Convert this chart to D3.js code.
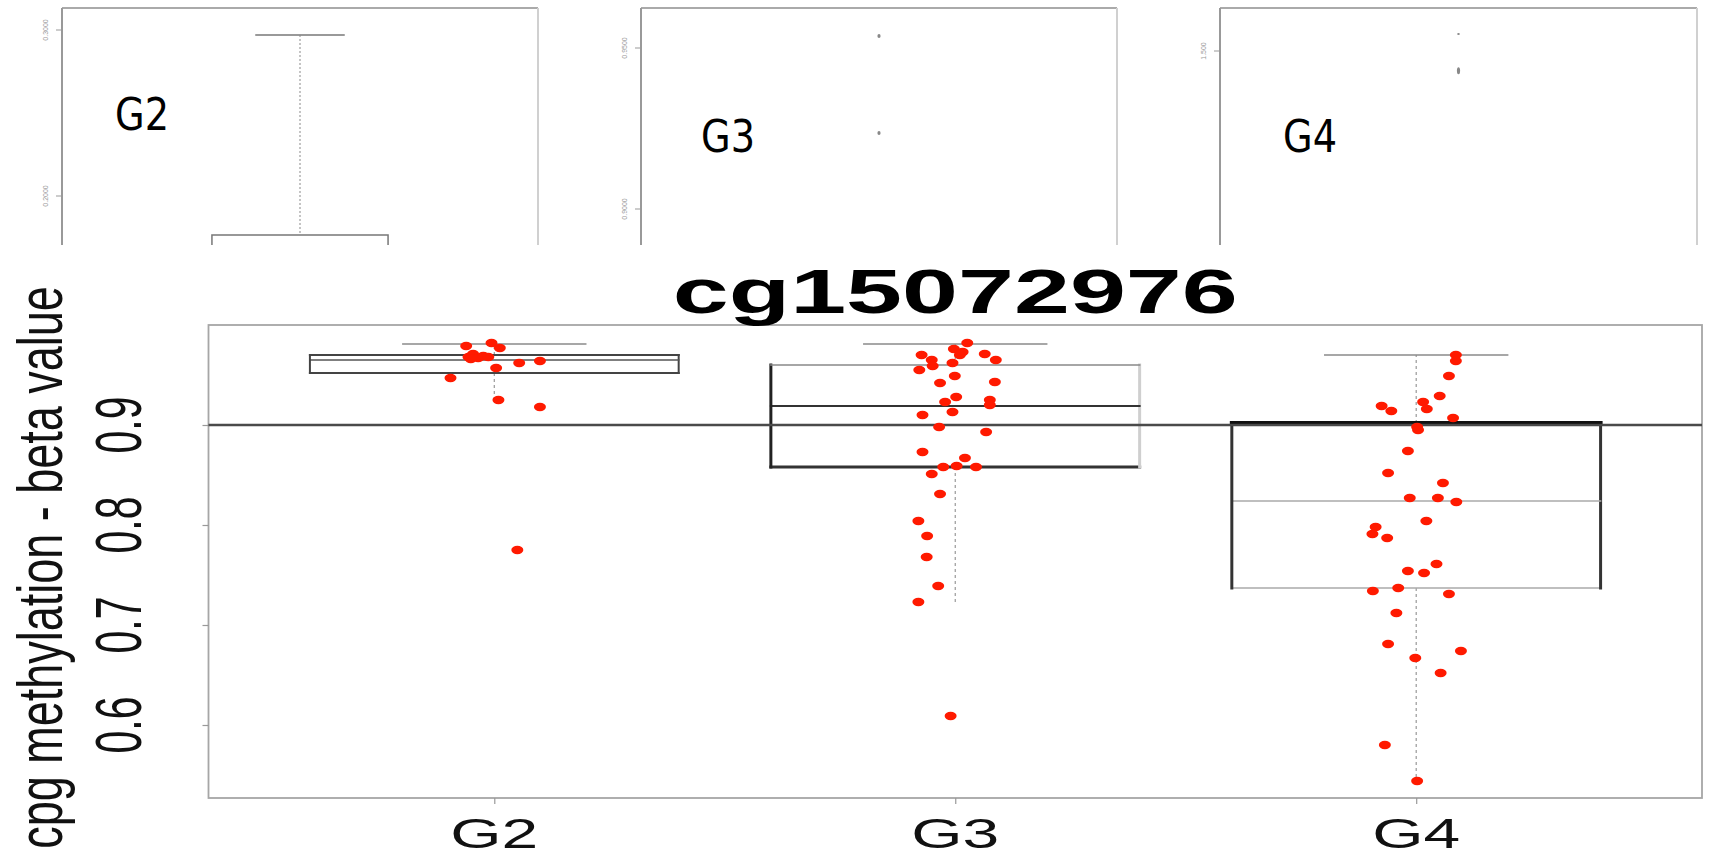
<!DOCTYPE html>
<html>
<head>
<meta charset="utf-8">
<script src="https://cdn.jsdelivr.net/npm/d3@7"></script>
<style>
  html, body { margin: 0; padding: 0; background: #fff; }
  svg { display: block; }
</style>
</head>
<body>
<svg id="chart" width="1709" height="857"></svg>
<script>
// ---------------- data ----------------
const categories = ["G2", "G3", "G4"];
const chartTitle = "cg15072976";
const yAxisLabel = "cpg methylation - beta value";
const yTicks = [0.6, 0.7, 0.8, 0.9];
const referenceLine = 0.9;

// box statistics per category
const whiskerLow  = [0.925, 0.722, 0.544];
const boxQ1       = [0.952, 0.858, 0.737];
const boxMedian   = [0.965, 0.919, 0.824];
const boxQ3       = [0.970, 0.960, 0.902];
const whiskerHigh = [0.981, 0.981, 0.970];

// individual samples (beta values) and their horizontal jitter (category units)
const g2Values = [0.979, 0.982, 0.977, 0.968, 0.971, 0.967, 0.969, 0.968, 0.966, 0.957, 0.962, 0.964, 0.947, 0.925, 0.918, 0.775];
const g2Jitter = [-0.061, -0.006, 0.012, -0.056, -0.046, -0.035, -0.024, -0.013, -0.051, 0.004, 0.054, 0.099, -0.095, 0.009, 0.099, 0.050];

const g3Values = [0.982, 0.976, 0.973, 0.970, 0.970, 0.965, 0.971, 0.965, 0.962, 0.959, 0.955, 0.949, 0.942, 0.943, 0.928, 0.923, 0.925, 0.920, 0.913, 0.910, 0.898, 0.893, 0.873, 0.867, 0.858, 0.859, 0.858, 0.851, 0.831, 0.804, 0.789, 0.768, 0.739, 0.723, 0.609];
const g3Jitter = [0.026, -0.003, 0.016, 0.010, -0.073, -0.051, 0.064, 0.088, -0.006, -0.049, -0.078, -0.001, -0.033, 0.086, 0.002, -0.022, 0.075, 0.075, -0.006, -0.071, -0.035, 0.067, -0.071, 0.021, -0.026, 0.003, 0.045, -0.051, -0.033, -0.080, -0.061, -0.062, -0.037, -0.080, -0.010];

const g4Values = [0.970, 0.964, 0.949, 0.929, 0.923, 0.916, 0.919, 0.914, 0.907, 0.898, 0.895, 0.874, 0.852, 0.842, 0.827, 0.827, 0.823, 0.804, 0.798, 0.791, 0.787, 0.761, 0.754, 0.752, 0.734, 0.737, 0.731, 0.712, 0.681, 0.674, 0.667, 0.652, 0.580, 0.544];
const g4Jitter = [0.086, 0.086, 0.071, 0.051, 0.015, 0.023, -0.075, -0.054, 0.080, 0.002, 0.004, -0.018, -0.061, 0.058, -0.014, 0.047, 0.087, 0.022, -0.088, -0.095, -0.063, 0.044, -0.018, 0.017, -0.094, -0.039, 0.071, -0.043, -0.061, 0.097, -0.002, 0.053, -0.068, 0.002];

// cropped fragments of three other plots shown above the main chart
const insetLabels = ["G2", "G3", "G4"];
const inset1TickValues = [0.2, 0.3];
const inset1TickLabels = ["0.2000", "0.3000"];
const inset1WhiskerTop = 0.297;
const inset1BoxTop = 0.1765;
const inset2TickValues = [0.90, 0.95];
const inset2TickLabels = ["0.9000", "0.9500"];
const inset2Points = [0.9537, 0.9236];
const inset3TickValues = [1.5];
const inset3TickLabels = ["1.500"];
const inset3Points = [1.504, 1.4953];

// ---------------- layout / style ----------------
const svg = d3.select("#chart");
const FONT = "'Liberation Sans', Arial, sans-serif";
const plot = { left: 208.5, right: 1702, top: 325, bottom: 798 };

const x = d3.scaleLinear().domain([0.38, 3.62]).range([plot.left, plot.right]);
const y = d3.scaleLinear().domain([0.527, 1.0]).range([plot.bottom, plot.top]);
const boxHalf = 0.4, capHalf = 0.2;

const boxes = categories.map((c, i) => ({
  cat: c, pos: i + 1,
  lo: whiskerLow[i], q1: boxQ1[i], med: boxMedian[i], q3: boxQ3[i], hi: whiskerHigh[i]
}));
const boxStyle = [
  { top: ["#444", 2], bottom: ["#444", 2], left: ["#444", 2], right: ["#444", 2], med: ["#555", 1.5] },
  { top: ["#888", 1.5], bottom: ["#333", 3], left: ["#222", 3], right: ["#cfcfcf", 3], med: ["#333", 2] },
  { top: ["#111", 4], bottom: ["#aaa", 1.5], left: ["#333", 3], right: ["#333", 3], med: ["#aaa", 1.5] }
];

// ---------------- inset fragments ----------------
const insets = [
  { left: 62, right: 538, ticks: inset1TickValues, labels: inset1TickLabels,
    y: d3.scaleLinear().domain([0.2, 0.3]).range([196, 30]) },
  { left: 641, right: 1117, ticks: inset2TickValues, labels: inset2TickLabels,
    y: d3.scaleLinear().domain([0.90, 0.95]).range([209, 48]) },
  { left: 1220, right: 1697, ticks: inset3TickValues, labels: inset3TickLabels,
    y: d3.scaleLinear().domain([1.45, 1.5]).range([262, 51]) }
];
const insetTop = 8, insetBottom = 245;
const insetLabelPos = [[115, 130], [701, 152], [1283, 152]];

insets.forEach((p, i) => {
  const g = svg.append("g");
  const ix = d3.scaleLinear().domain([0.5, 1.5]).range([p.left, p.right]);
  // frame (open at the bottom: cropped)
  g.append("line").attr("x1", p.left).attr("x2", p.right).attr("y1", insetTop).attr("y2", insetTop)
    .attr("stroke", "#aaa").attr("stroke-width", 2);
  g.append("line").attr("x1", p.left).attr("x2", p.left).attr("y1", insetTop).attr("y2", insetBottom)
    .attr("stroke", "#999").attr("stroke-width", 2);
  g.append("line").attr("x1", p.right).attr("x2", p.right).attr("y1", insetTop).attr("y2", insetBottom)
    .attr("stroke", "#d0d0d0").attr("stroke-width", 2);
  // ticks
  p.ticks.forEach((t, k) => {
    const ty = p.y(t);
    g.append("line").attr("x1", p.left - 6).attr("x2", p.left).attr("y1", ty).attr("y2", ty)
      .attr("stroke", "#999").attr("stroke-width", 1);
    g.append("text").attr("transform", `translate(${p.left - 14},${ty}) rotate(-90)`)
      .attr("text-anchor", "middle").attr("font-family", FONT).attr("font-size", 7)
      .attr("fill", "#999").text(p.labels[k]);
  });
  // label
  g.append("text").attr("x", insetLabelPos[i][0]).attr("y", insetLabelPos[i][1])
    .attr("font-family", "'DejaVu Sans', sans-serif").attr("font-size", 45)
    .attr("textLength", 54).attr("lengthAdjust", "spacingAndGlyphs")
    .attr("fill", "#000").text(insetLabels[i]);
  p.ix = ix;
});

// inset 1: whisker and box top
{
  const p = insets[0];
  const cx = p.ix(1);
  svg.append("line").attr("x1", p.ix(1 - 0.094)).attr("x2", p.ix(1 + 0.094))
    .attr("y1", p.y(inset1WhiskerTop)).attr("y2", p.y(inset1WhiskerTop))
    .attr("stroke", "#777").attr("stroke-width", 1.5);
  svg.append("line").attr("x1", cx).attr("x2", cx)
    .attr("y1", p.y(inset1WhiskerTop)).attr("y2", p.y(inset1BoxTop))
    .attr("stroke", "#888").attr("stroke-width", 1).attr("stroke-dasharray", "2,2");
  const bl = p.ix(1 - 0.185), br = p.ix(1 + 0.185);
  svg.append("path")
    .attr("d", `M${bl},${insetBottom} L${bl},${p.y(inset1BoxTop)} L${br},${p.y(inset1BoxTop)} L${br},${insetBottom}`)
    .attr("fill", "none").attr("stroke", "#777").attr("stroke-width", 1.5);
}
// inset 2 and 3: isolated points
svg.selectAll(".i2pt").data(inset2Points).join("ellipse")
  .attr("cx", insets[1].ix(1)).attr("cy", d => insets[1].y(d))
  .attr("rx", 1.6).attr("ry", 2).attr("fill", "#888");
svg.selectAll(".i3pt").data(inset3Points).join("ellipse")
  .attr("cx", insets[2].ix(1)).attr("cy", d => insets[2].y(d))
  .attr("rx", (d, i) => i === 0 ? 1.3 : 1.6).attr("ry", (d, i) => i === 0 ? 1 : 3.5).attr("fill", "#888");

// ---------------- main chart ----------------
const main = svg.append("g");

// frame
main.append("rect").attr("x", plot.left).attr("y", plot.top)
  .attr("width", plot.right - plot.left).attr("height", plot.bottom - plot.top)
  .attr("fill", "none").attr("stroke", "#a6a6a6").attr("stroke-width", 1.8);

// y axis (ticks only, labels drawn rotated & stretched)
const yAxis = d3.axisLeft(y).tickValues(yTicks).tickSize(6).tickFormat("");
const yg = main.append("g").attr("transform", `translate(${plot.left},0)`).call(yAxis);
yg.select(".domain").remove();
yg.selectAll("line").attr("stroke", "#999").attr("stroke-width", 1.2);
main.selectAll(".ylab").data(yTicks).join("text")
  .attr("transform", d => `translate(141,${y(d)}) scale(1.6,1) rotate(-90)`)
  .attr("text-anchor", "middle").attr("font-family", FONT).attr("font-size", 41)
  .attr("fill", "#111").text(d => d3.format(".1f")(d));

// x axis
const xAxis = d3.axisBottom(x).tickValues(categories.map((c, i) => i + 1)).tickSize(6).tickFormat("");
const xg = main.append("g").attr("transform", `translate(0,${plot.bottom})`).call(xAxis);
xg.select(".domain").remove();
xg.selectAll("line").attr("stroke", "#999").attr("stroke-width", 1.2);
main.selectAll(".xlab").data(categories).join("text")
  .attr("x", (d, i) => x(i + 1)).attr("y", 848)
  .attr("text-anchor", "middle").attr("font-family", FONT).attr("font-size", 42)
  .attr("textLength", 88).attr("lengthAdjust", "spacingAndGlyphs")
  .attr("fill", "#111").text(d => d);

// title
main.append("text").attr("x", (plot.left + plot.right) / 2).attr("y", 313)
  .attr("text-anchor", "middle").attr("font-family", FONT).attr("font-weight", "bold")
  .attr("font-size", 63).attr("textLength", 565).attr("lengthAdjust", "spacingAndGlyphs")
  .attr("fill", "#000").text(chartTitle);

// y axis title
main.append("text")
  .attr("transform", `translate(62,${(plot.top + plot.bottom) / 2 + 6}) scale(1.4,1) rotate(-90)`)
  .attr("text-anchor", "middle").attr("font-family", FONT).attr("font-size", 45)
  .attr("fill", "#111").text(yAxisLabel);

// whiskers (dotted) and upper caps
boxes.forEach(b => {
  main.append("line").attr("x1", x(b.pos)).attr("x2", x(b.pos)).attr("y1", y(b.q1)).attr("y2", y(b.lo))
    .attr("stroke", "#999").attr("stroke-width", 1.2).attr("stroke-dasharray", "3,3");
  main.append("line").attr("x1", x(b.pos)).attr("x2", x(b.pos)).attr("y1", y(b.q3)).attr("y2", y(b.hi))
    .attr("stroke", "#999").attr("stroke-width", 1.2).attr("stroke-dasharray", "3,3");
  main.append("line").attr("x1", x(b.pos - capHalf)).attr("x2", x(b.pos + capHalf))
    .attr("y1", y(b.hi)).attr("y2", y(b.hi)).attr("stroke", "#8a8a8a").attr("stroke-width", 1.6);
});

// boxes
boxes.forEach((b, i) => {
  const s = boxStyle[i];
  const l = x(b.pos - boxHalf), r = x(b.pos + boxHalf), t = y(b.q3), bo = y(b.q1);
  const seg = (x1, y1, x2, y2, st) => main.append("line")
    .attr("x1", x1).attr("y1", y1).attr("x2", x2).attr("y2", y2)
    .attr("stroke", st[0]).attr("stroke-width", st[1]).attr("stroke-linecap", "square");
  main.append("rect").attr("x", l).attr("y", t).attr("width", r - l).attr("height", bo - t).attr("fill", "none");
  seg(l, bo, r, bo, s.bottom);
  seg(r, t, r, bo, s.right);
  seg(l, y(b.med), r, y(b.med), s.med);
  seg(l, t, l, bo, s.left);
  seg(l, t, r, t, s.top);
});

// reference line at 0.9
main.append("line").attr("x1", plot.left).attr("x2", plot.right)
  .attr("y1", y(referenceLine)).attr("y2", y(referenceLine))
  .attr("stroke", "#4a4a4a").attr("stroke-width", 2.6);

// jittered points
const points = [];
[[g2Values, g2Jitter], [g3Values, g3Jitter], [g4Values, g4Jitter]].forEach(([vals, jit], i) => {
  vals.forEach((v, k) => points.push({ pos: i + 1 + jit[k], v }));
});
main.selectAll(".pt").data(points).join("ellipse")
  .attr("cx", d => x(d.pos)).attr("cy", d => y(d.v))
  .attr("rx", 6).attr("ry", 4.2).attr("fill", "#ff1a00");
</script>
</body>
</html>
